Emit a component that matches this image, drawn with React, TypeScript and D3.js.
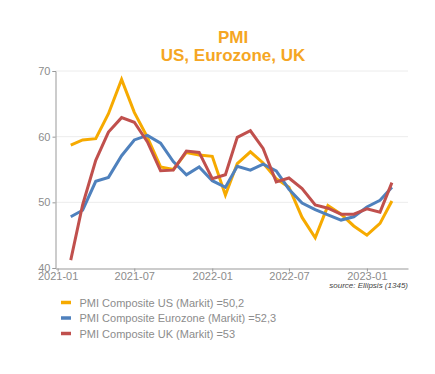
import React, { useRef, useEffect } from "react";
import * as d3 from "d3";

// monthly data, Jan 2021 .. Feb 2023 (plotted at month end)
const startMonth = "2021-01";
const usValues = [58.7, 59.5, 59.7, 63.5, 68.7, 63.7, 59.9, 55.4, 55.0, 57.6, 57.2, 57.0,
  51.1, 55.9, 57.7, 56.0, 53.6, 52.3, 47.7, 44.6, 49.5, 48.2, 46.4, 45.0, 46.8, 50.2];
const ezValues = [47.8, 48.8, 53.2, 53.8, 57.1, 59.5, 60.2, 59.0, 56.2, 54.2, 55.4, 53.3,
  52.3, 55.5, 54.9, 55.8, 54.8, 52.0, 49.9, 48.9, 48.1, 47.3, 47.8, 49.3, 50.3, 52.3];
const ukValues = [41.2, 49.6, 56.4, 60.7, 62.9, 62.2, 59.2, 54.8, 54.9, 57.8, 57.6, 53.6,
  54.2, 59.9, 60.9, 58.2, 53.1, 53.7, 52.1, 49.6, 49.1, 48.2, 48.2, 49.0, 48.5, 53.0];

const seriesNames = ["PMI Composite US (Markit)", "PMI Composite Eurozone (Markit)", "PMI Composite UK (Markit)"];
const lastLabels = ["50,2", "52,3", "53"];
const colors = ["#F6AA00", "#4F81BD", "#C0504D"];
const xTicks = ["2021-01", "2021-07", "2022-01", "2022-07", "2023-01"];
const yTicks = [40, 50, 60, 70];

const App = () => {
  const svgRef = useRef<SVGSVGElement>(null);

  useEffect(() => {
    const width = 435;
    const height = 374;
    const parse = d3.timeParse("%Y-%m");

    const svg = d3.select(svgRef.current)
      .attr("width", width)
      .attr("height", height)
      .html("");

    const x = d3.scaleTime()
      .domain([new Date(2020, 11, 27), new Date(2023, 3, 8)])
      .range([55.5, 408]);
    const y = d3.scaleLinear().domain([40, 70]).range([268, 71]);

    // title
    svg.append("text")
      .attr("x", 233).attr("y", 43)
      .attr("text-anchor", "middle")
      .attr("font-family", "Liberation Sans, Arial, sans-serif")
      .attr("font-size", 17).attr("font-weight", "bold")
      .attr("fill", "#F5A623")
      .text("PMI");
    svg.append("text")
      .attr("x", 233).attr("y", 61)
      .attr("text-anchor", "middle")
      .attr("font-family", "Liberation Sans, Arial, sans-serif")
      .attr("font-size", 17).attr("font-weight", "bold")
      .attr("fill", "#F5A623")
      .text("US, Eurozone, UK");

    // grid
    svg.append("g")
      .selectAll("line")
      .data(yTicks.filter((d) => d > 40))
      .join("line")
      .attr("x1", 55.5).attr("x2", 408)
      .attr("y1", (d) => y(d)).attr("y2", (d) => y(d))
      .attr("stroke", "#ececec");

    const font = "Liberation Sans, Arial, sans-serif";

    // y axis
    const yAxis = svg.append("g")
      .attr("transform", "translate(55.5,0)")
      .call(d3.axisLeft(y).tickValues(yTicks).tickSize(3).tickPadding(2));
    yAxis.select(".domain").attr("stroke", "#999");
    yAxis.selectAll(".tick line").attr("stroke", "#999");
    yAxis.selectAll(".tick text")
      .attr("font-family", font).attr("font-size", 11).attr("fill", "#8c8c8c");

    // x axis
    const xAxis = svg.append("g")
      .attr("transform", "translate(0,268.5)")
      .call(d3.axisBottom(x)
        .tickValues(xTicks.map((t) => parse(t) as Date))
        .tickFormat((d) => d3.timeFormat("%Y-%m")(d as Date))
        .tickSize(3).tickPadding(1).tickSizeOuter(0));
    xAxis.select(".domain").attr("stroke", "#999");
    xAxis.selectAll(".tick line").attr("stroke", "#999");
    xAxis.selectAll(".tick text")
      .attr("font-family", font).attr("font-size", 11).attr("fill", "#8c8c8c");

    // lines
    const start = parse(startMonth) as Date;
    const line = d3.line<number>()
      .x((_, i) => x(d3.timeMonth.offset(start, i + 1)))
      .y((d) => y(d));

    [usValues, ezValues, ukValues].forEach((vals, k) => {
      svg.append("path")
        .datum(vals)
        .attr("d", line)
        .attr("fill", "none")
        .attr("stroke", colors[k])
        .attr("stroke-width", 3)
        .attr("stroke-linejoin", "miter");
    });

    // source
    svg.append("text")
      .attr("x", 408).attr("y", 288)
      .attr("text-anchor", "end")
      .attr("font-family", font)
      .attr("font-size", 8).attr("font-style", "italic")
      .attr("fill", "#444")
      .text("source: Ellipsis (1345)");

    // legend
    const legend = svg.append("g");
    seriesNames.forEach((name, k) => {
      const ly = 302.5 + k * 15.5;
      legend.append("line")
        .attr("x1", 61).attr("x2", 71)
        .attr("y1", ly).attr("y2", ly)
        .attr("stroke", colors[k]).attr("stroke-width", 3.5);
      legend.append("text")
        .attr("x", 79.5).attr("y", ly + 4)
        .attr("font-family", font).attr("font-size", 11)
        .attr("fill", "#8c8c8c")
        .text(`${name} =${lastLabels[k]}`);
    });
  }, []);

  return <svg ref={svgRef} style={{ display: "block", position: "absolute", left: 0, top: 0 }} />;
};

export default App;
